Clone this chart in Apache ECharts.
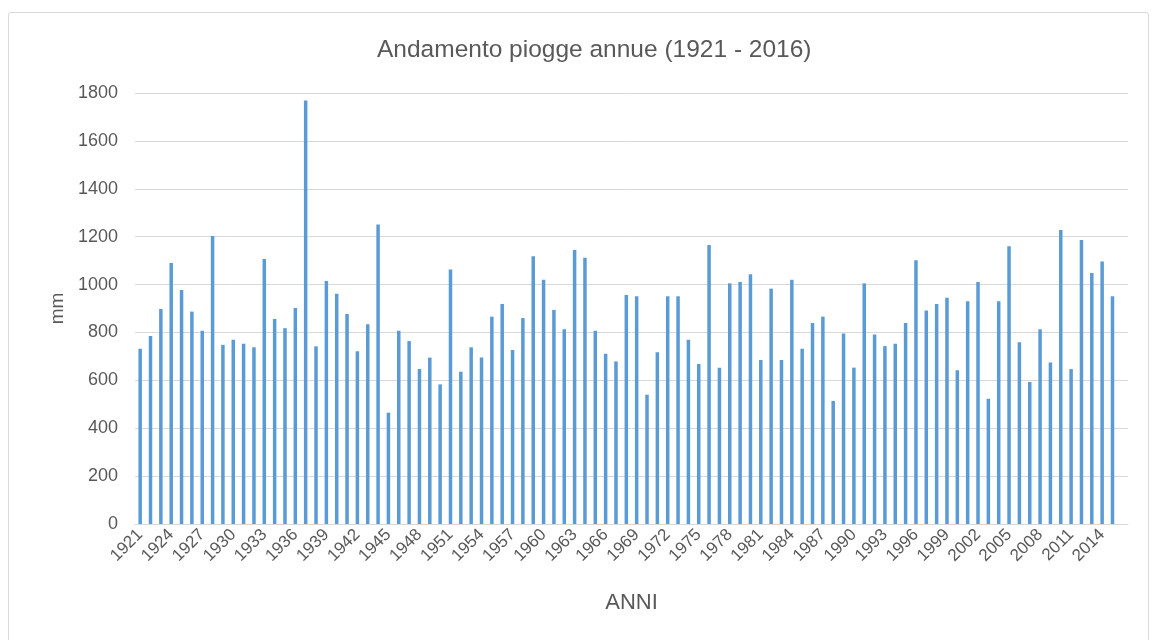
<!DOCTYPE html>
<html>
<head>
<meta charset="utf-8">
<script src="https://cdn.jsdelivr.net/npm/echarts@6/dist/echarts.min.js"></script>
<style>
  html, body { margin: 0; padding: 0; background: #fff; }
  #frame { position: absolute; left: 8px; top: 12px; width: 1141px; height: 640px; border: 1px solid #d9d9d9; border-radius: 3px; box-sizing: border-box; }
  #chart { position: absolute; left: 0; top: 0; width: 1155px; height: 640px; }
</style>
</head>
<body>
<div id="frame"></div>
<div id="chart"></div>
<script>
// anni 1921 - 2016
var years = [];
for (var y = 1921; y <= 2016; y++) years.push(String(y));

// pioggia annua (mm); 2016 senza dato
var rain = [
  732, 785, 898, 1090, 977, 887, 807, 1203, 748, 770,
  753, 738, 1107, 856, 818, 902, 1769, 742, 1015, 962,
  877, 721, 834, 1251, 465, 807, 764, 647, 695, 583,
  1063, 636, 738, 695, 866, 919, 727, 860, 1118, 1020,
  894, 813, 1144, 1112, 807, 711, 679, 956, 951, 540,
  717, 951, 951, 770, 668, 1165, 653, 1005, 1011, 1043,
  685, 983, 685, 1020, 732, 839, 866, 514, 796, 653,
  1005, 791, 743, 753, 839, 1101, 892, 919, 945, 642,
  930, 1011, 523, 930, 1160, 759, 593, 813, 674, 1228,
  647, 1186, 1048, 1096, 951, null
];

var chart = echarts.init(document.getElementById('chart'), null, { renderer: 'canvas' });
var txt = '#595959';
var font = 'Liberation Sans';
var option = {
  animation: false,
  title: {
    text: 'Andamento piogge annue (1921 - 2016)',
    left: 372,
    top: 33,
    textStyle: { fontFamily: font, fontSize: 24.5, fontWeight: 'normal', color: txt }
  },
  grid: { left: 135, right: 27, top: 93, bottom: 116 },
  xAxis: {
    type: 'category',
    data: years,
    name: 'ANNI',
    nameLocation: 'middle',
    nameGap: 68,
    nameTextStyle: { fontFamily: font, fontSize: 22, color: txt },
    axisLine: { lineStyle: { color: '#d9d9d9' } },
    axisTick: { show: false },
    axisLabel: {
      interval: 2,
      rotate: 45,
      margin: 8,
      fontFamily: font,
      fontSize: 17,
      color: txt
    }
  },
  yAxis: {
    type: 'value',
    min: 0,
    max: 1800,
    interval: 200,
    name: 'mm',
    nameLocation: 'middle',
    nameGap: 67,
    nameTextStyle: { fontFamily: font, fontSize: 19, color: txt },
    axisLine: { show: false },
    axisTick: { show: false },
    axisLabel: {
      fontFamily: font, fontSize: 18, color: txt, margin: 17,
      formatter: function (v) { return String(v); }
    },
    splitLine: { lineStyle: { color: '#d9d9d9', width: 1 } }
  },
  series: [{
    type: 'bar',
    data: rain,
    barWidth: 3.5,
    itemStyle: { color: '#5b9bd5' }
  }]
};
chart.setOption(option);
</script>
</body>
</html>
